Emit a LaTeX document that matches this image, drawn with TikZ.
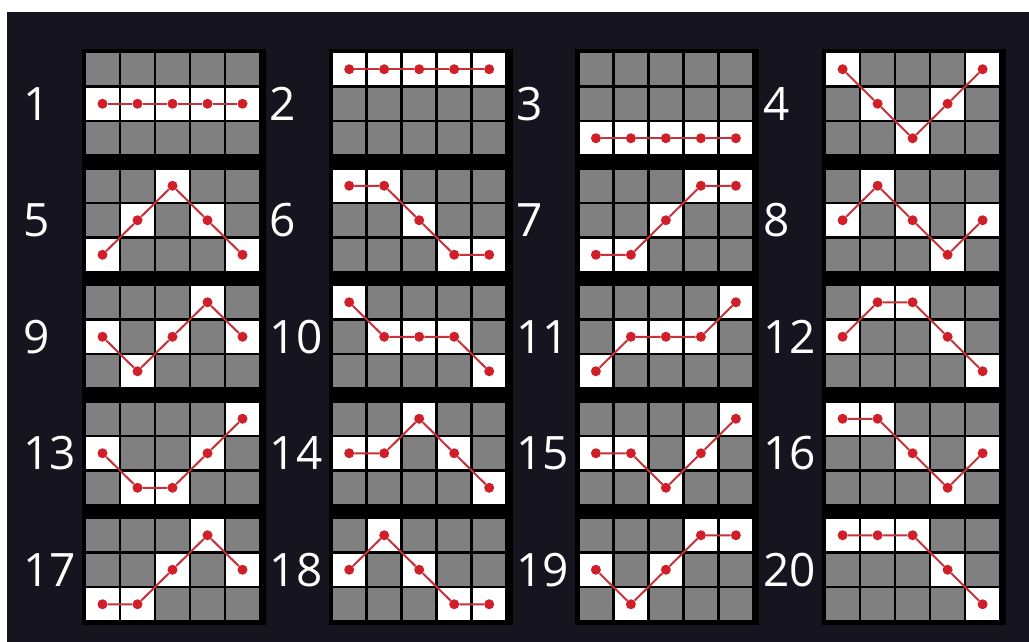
\documentclass[tikz,border=0pt]{standalone}
\usepackage{fontspec}
\setmainfont{Open Sans}
\usepackage{xcolor}
\usepackage{tikz}
\definecolor{night}{HTML}{16151F}
\definecolor{slot}{HTML}{808080}
\definecolor{win}{HTML}{D11F2A}
\definecolor{wire}{HTML}{C4323A}

\begin{document}
\begin{tikzpicture}[x=1pt,y=-1pt,
  lit/.style={fill=white},
  rule/.style={draw=black,line width=2.6pt},
  dot/.style={circle,fill=win,inner sep=0pt,minimum size=10pt},
  pay/.style={draw=wire,line width=2pt},
  num/.style={anchor=west,inner sep=0pt,text=white,font=\fontsize{46}{46}\selectfont}
]
\fill[white] (0,0) rectangle (1029,642);
\fill[night] (7,12) rectangle (1029,642);
\useasboundingbox (0,0) rectangle (1029,642);
\foreach \col in {0,...,3}
  \fill[black] (82+246.7*\col,49) rectangle +(184,576);
\foreach \n/\a/\b/\c/\d/\e in {1/1/1/1/1/1,2/0/0/0/0/0,3/2/2/2/2/2,4/0/1/2/1/0,
    5/2/1/0/1/2,6/0/0/1/2/2,7/2/2/1/0/0,8/1/0/1/2/1,
    9/1/2/1/0/1,10/0/1/1/1/2,11/2/1/1/1/0,12/1/0/0/1/2,
    13/1/2/2/1/0,14/1/1/0/1/2,15/1/1/2/1/0,16/0/0/1/2/1,
    17/2/2/1/0/1,18/1/0/1/2/2,19/1/2/1/0/0,20/0/0/0/1/2}{
  \pgfmathtruncatemacro\col{mod(\n-1,4)}
  \pgfmathtruncatemacro\row{int((\n-1)/4)}
  \begin{scope}[shift={(85+246.7*\col,52+116.5*\row)}]
    \fill[slot] (0,0) rectangle (175,103.5);
    \foreach \v [count=\k] in {\a,\b,\c,\d,\e}
      \fill[lit] (\k*35-35,\v*34.5) rectangle +(35,34.5);
    \foreach \x in {0,35,...,175}
      \draw[rule] (\x,0) -- (\x,103.5);
    \foreach \y in {0,34.5,69,103.5}
      \draw[rule] (0,\y) -- (175,\y);
    \foreach \v [count=\k] in {\a,\b,\c,\d,\e}
      \node[dot] (p\n-\k) at (\k*35-17.5,\v*34.5+17.25) {};
    \draw[pay] (p\n-1) -- (p\n-2) -- (p\n-3) -- (p\n-4) -- (p\n-5);
    \node[num] (n\n) at (-62,51.75) {\n};
  \end{scope}
}
\end{tikzpicture}
\end{document}
